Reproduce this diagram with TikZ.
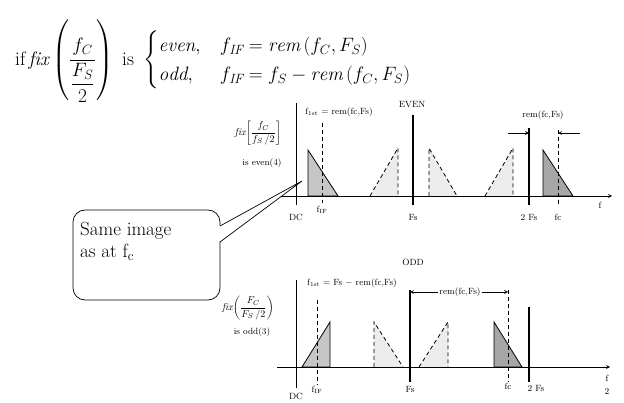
\documentclass[tikz,border=0pt]{standalone}
\usepackage{amsmath,amssymb}
\usepackage{graphicx}
\usepackage{fontspec}
\usepackage{tikz}
\usetikzlibrary{positioning, calc, arrows.meta}

\begin{document}
\begin{tikzpicture}[x=1pt, y=-1pt, >=stealth,
    lbl/.style={font=\fontsize{9}{10}\selectfont, inner sep=1pt},
    note/.style={font=\fontsize{10}{11}\selectfont, inner sep=1pt},
    solidimg/.style={draw=black, line width=0.8pt},
    ghostimg/.style={draw=black, dashed, line width=0.8pt, dash pattern=on 4pt off 3pt},
    marker/.style={line width=1.1pt},
    dashmarker/.style={line width=0.9pt, dash pattern=on 4pt off 3pt}]
    \useasboundingbox (0,0) rectangle (624,403);

    % Rule at the top
    \node[anchor=west, inner sep=0pt, font=\LARGE] (rule) at (15,61)
        {\scalebox{1.12}{$\mathrm{if}\,\mathit{fix}\left(\dfrac{f_C}{\dfrac{F_S}{2}}\right)\text{ is }\begin{cases}\mathit{even}, & f_{\mathit{IF}} = \mathit{rem}\left(f_C, F_S\right)\\ \mathit{odd}, & f_{\mathit{IF}} = f_S - \mathit{rem}\left(f_C, F_S\right)\end{cases}$}};

    %%%%%%%%%% EVEN case %%%%%%%%%%
    % Axes
    \draw[->, line width=0.7pt] (278,196) -- (612,196);
    \draw[line width=0.8pt] (296,103) -- (296,205);
    \node[lbl] (ev-f) at (600,205) {f};
    \node[lbl] (ev-dc) at (296,217) {DC};
    \node[lbl] (ev-title) at (412,105) {EVEN};

    % Images
    \filldraw[solidimg, fill=gray!45] (308,196) -- (308,150) -- (338,196) -- cycle;
    \fill[gray!15] (370,196) -- (398,148) -- (398,196) -- cycle;
    \draw[ghostimg] (370,196) -- (398,148) -- (398,196);
    \fill[gray!15] (429,196) -- (429,148) -- (457,196) -- cycle;
    \draw[ghostimg] (429,196) -- (429,148) -- (457,196);
    \fill[gray!15] (485,196) -- (513,148) -- (513,196) -- cycle;
    \draw[ghostimg] (485,196) -- (513,148) -- (513,196);
    \filldraw[solidimg, fill=gray!70] (543,196) -- (543,150) -- (573,196) -- cycle;

    % Markers
    \draw[dashmarker] (322,123) -- (322,203);
    \draw[marker] (413,115) -- (413,205);
    \draw[marker] (529,128) -- (529,205);
    \draw[dashmarker] (558,130) -- (558,205);
    \node[lbl] (ev-fif) at (322,210) {f$_{\mathrm{IF}}$};
    \node[lbl] (ev-fs) at (413,217) {Fs};
    \node[lbl] (ev-2fs) at (529,217) {2 Fs};
    \node[lbl] (ev-fc) at (558,217) {fc};
    \node[lbl] (ev-first) at (339,112) {f$_{\mathrm{1st}}$ = rem(fc,Fs)};
    \node[lbl] (ev-rem) at (543,115) {rem(fc,Fs)};

    % rem arrows
    \coordinate (ev-a1) at (508,133);
    \coordinate (ev-b1) at (529,133);
    \coordinate (ev-a2) at (580,133);
    \coordinate (ev-b2) at (558,133);
    \draw[->, line width=0.7pt] (ev-a1) -- (ev-b1);
    \draw[->, line width=0.7pt] (ev-a2) -- (ev-b2);

    % Condition
    \node[note] (ev-fix) at (258,133) {$\mathit{fix}\!\left[\dfrac{f_C}{f_S\,/2}\right]$};
    \node[lbl] (ev-is) at (262,163) {is even(4)};

    %%%%%%%%%% ODD case %%%%%%%%%%
    % Axes
    \draw[->, line width=0.7pt] (277,367) -- (610,367);
    \draw[line width=0.8pt] (296,280) -- (296,388);
    \node[lbl] (od-f) at (607,378) {f};
    \node[lbl] (od-page) at (607,392) {2};
    \node[lbl] (od-dc) at (296,396) {DC};
    \node[lbl] (od-title) at (413,262) {ODD};

    % Images
    \filldraw[solidimg, fill=gray!45] (302,367) -- (330,322) -- (330,367) -- cycle;
    \fill[gray!15] (374,367) -- (374,322) -- (403,367) -- cycle;
    \draw[ghostimg] (374,367) -- (374,322) -- (403,367);
    \fill[gray!15] (419,367) -- (448,322) -- (448,367) -- cycle;
    \draw[ghostimg] (419,367) -- (448,322) -- (448,367);
    \filldraw[solidimg, fill=gray!70] (494,367) -- (494,322) -- (522,367) -- cycle;

    % Markers
    \draw[dashmarker] (317,300) -- (317,385);
    \draw[marker] (410,290) -- (410,382);
    \draw[dashmarker] (508,290) -- (508,382);
    \draw[marker] (529,307) -- (529,382);
    \node[lbl] (od-fif) at (317,390) {f$_{\mathrm{IF}}$};
    \node[lbl] (od-fs) at (410,389) {Fs};
    \node[lbl] (od-fc) at (508,386) {fc};
    \node[lbl] (od-2fs) at (536,388) {2 Fs};
    \node[lbl] (od-first) at (352,283) {f$_{\mathrm{1st}}$ = Fs $-$ rem(fc,Fs)};
    \node[lbl] (od-rem) at (460,292) {rem(fc,Fs)};

    % rem arrows
    \coordinate (od-b1) at (410,292);
    \coordinate (od-b2) at (508,292);
    \draw[->, line width=0.7pt] (od-rem.west) -- (od-b1);
    \draw[->, line width=0.7pt] (od-rem.east) -- (od-b2);

    % Condition
    \node[note] (od-fix) at (248,308) {$\mathit{fix}\!\left(\dfrac{F_C}{F_S\,/2}\right)$};
    \node[lbl] (od-is) at (252,332) {is odd(3)};

    %%%%%%%%%% Callout %%%%%%%%%%
    \coordinate (tip) at (302,181);
    \coordinate (pin-a) at (220,226);
    \coordinate (pin-b) at (220,242);
    \draw[line width=0.7pt, fill=white, rounded corners=12pt] (73,210) rectangle (220,300);
    \fill[white] ($(pin-a)+(-1,0)$) -- (tip) -- ($(pin-b)+(-1,0)$) -- cycle;
    \draw[line width=0.7pt] (pin-a) -- (tip) -- (pin-b);
    \node[anchor=north west, align=left, inner sep=0pt, font=\fontsize{19}{22}\selectfont] (same) at (80,222)
        {Same image\\as at f$_{\mathrm{c}}$};
\end{tikzpicture}
\end{document}
